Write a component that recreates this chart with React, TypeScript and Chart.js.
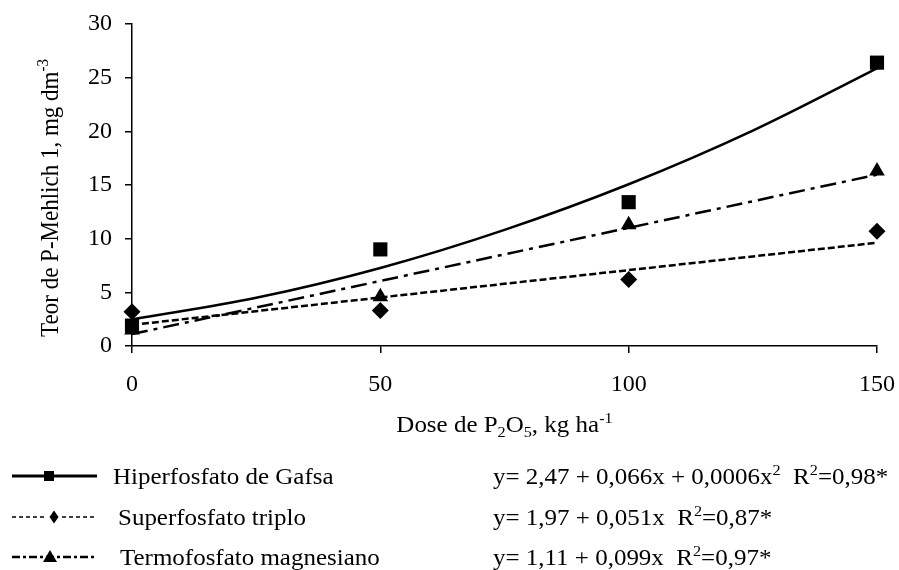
import React, { useEffect, useRef } from 'react';
import { Chart, registerables } from 'chart.js';

Chart.register(...registerables);

// ---- data ----
const doses = [0, 50, 100, 150];
const gafsa = [1.9, 9.0, 13.4, 26.4];
const superTriplo = [3.2, 3.3, 6.2, 10.7];
const termo = [1.5, 4.6, 11.3, 16.3];

// fitted curves
const gafsaFitX = [0, 25, 50, 75, 100, 125, 150];
const gafsaFitY = [2.47, 4.49, 7.27, 10.82, 15.07, 20.07, 25.87];
const linFitX = [0, 150];
const superFitY = [1.97, 9.62];
const termoFitY = [1.11, 15.96];

const seriesNames = ['Hiperfosfato de Gafsa', 'Superfosfato triplo', 'Termofosfato magnesiano'];

type Part = [string, number]; // 0 normal, 1 sub, 2 sup
const equations: Part[][] = [
  [['y= 2,47 + 0,066x + 0,0006x', 0], ['2', 2], ['  R', 0], ['2', 2], ['=0,98*', 0]],
  [['y= 1,97 + 0,051x  R', 0], ['2', 2], ['=0,87*', 0]],
  [['y= 1,11 + 0,099x  R', 0], ['2', 2], ['=0,97*', 0]],
];
const xTitle: Part[] = [['Dose de P', 0], ['2', 1], ['O', 0], ['5', 1], [', kg ha', 0], ['-1', 2]];
const yTitle: Part[] = [['Teor de P-Mehlich 1, mg dm', 0], ['-3', 2]];

const FONT = '"Liberation Serif", "Times New Roman", serif';
const SX = 1.11;

function partsWidth(ctx: CanvasRenderingContext2D, parts: Part[], size: number) {
  let w = 0;
  for (const [t, k] of parts) {
    ctx.font = `${k ? size * 0.65 : size}px ${FONT}`;
    w += ctx.measureText(t).width;
  }
  return w;
}

function drawParts(ctx: CanvasRenderingContext2D, parts: Part[], size: number, x0: number) {
  let x = x0;
  ctx.textBaseline = 'alphabetic';
  ctx.textAlign = 'left';
  for (const [t, k] of parts) {
    const s = k ? size * 0.65 : size;
    ctx.font = `${s}px ${FONT}`;
    const dy = k === 1 ? size * 0.22 : k === 2 ? -size * 0.4 : 0;
    ctx.fillText(t, x, dy);
    x += ctx.measureText(t).width;
  }
}

const annotPlugin = {
  id: 'annot',
  afterDraw(chart: any) {
    const ctx: CanvasRenderingContext2D = chart.ctx;
    const area = chart.chartArea;
    ctx.save();
    ctx.fillStyle = '#000';
    ctx.strokeStyle = '#000';
    const size = 22.5;

    // x title
    const cx = (area.left + area.right) / 2;
    ctx.save();
    ctx.translate(cx, 432);
    ctx.scale(SX, 1);
    const wx = partsWidth(ctx, xTitle, size);
    drawParts(ctx, xTitle, size, -wx / 2);
    ctx.restore();

    // y title
    ctx.save();
    ctx.translate(58, 198);
    ctx.rotate(-Math.PI / 2);
    ctx.scale(1, SX);
    const ysz = 23;
    const wy = partsWidth(ctx, yTitle, ysz);
    drawParts(ctx, yTitle, ysz, -wy / 2);
    ctx.restore();

    // legend
    const rows = [476, 517, 557];
    const textX = [113, 118, 120];
    const eqX = 493;
    rows.forEach((ry, i) => {
      ctx.save();
      ctx.beginPath();
      if (i === 0) {
        ctx.lineWidth = 3;
        ctx.setLineDash([]);
      } else if (i === 1) {
        ctx.lineWidth = 1.5;
        ctx.setLineDash([4, 3]);
      } else {
        ctx.lineWidth = 2.5;
        ctx.setLineDash([8, 3, 3, 3]);
      }
      if (i === 1) {
        ctx.moveTo(12, ry); ctx.lineTo(46, ry);
        ctx.moveTo(62, ry); ctx.lineTo(97, ry);
      } else {
        ctx.moveTo(12, ry); ctx.lineTo(97, ry);
      }
      ctx.stroke();
      ctx.setLineDash([]);
      ctx.beginPath();
      if (i === 0) {
        ctx.rect(44, ry - 5, 10, 10);
      } else if (i === 1) {
        ctx.moveTo(54, ry - 6.5); ctx.lineTo(58.5, ry); ctx.lineTo(54, ry + 6.5); ctx.lineTo(49.5, ry);
        ctx.closePath();
      } else {
        ctx.moveTo(50, ry - 7); ctx.lineTo(57, ry + 5); ctx.lineTo(43, ry + 5);
        ctx.closePath();
      }
      ctx.fill();
      ctx.restore();

      ctx.save();
      ctx.translate(textX[i], ry + 7.5);
      ctx.scale(SX, 1);
      drawParts(ctx, [[seriesNames[i], 0]], size, 0);
      ctx.restore();

      ctx.save();
      ctx.translate(eqX, ry + 7.5);
      ctx.scale(SX, 1);
      drawParts(ctx, equations[i], size, 0);
      ctx.restore();
    });
    ctx.restore();
  },
};

function pts(xs: number[], ys: number[]) {
  return xs.map((x, i) => ({ x, y: ys[i] }));
}

export default function App() {
  const ref = useRef<HTMLCanvasElement | null>(null);
  useEffect(() => {
    if (!ref.current) return;
    const tickFont = { family: FONT, size: 24 };
    const chart = new Chart(ref.current, {
      type: 'scatter',
      data: {
        datasets: [
          { label: seriesNames[0], data: pts(doses, gafsa), pointStyle: 'rect', pointRadius: 10, backgroundColor: '#000', borderColor: '#000', borderWidth: 0, order: 0, clip: false } as any,
          { label: seriesNames[1], data: pts(doses, superTriplo), pointStyle: 'rectRot', pointRadius: 8.5, backgroundColor: '#000', borderColor: '#000', borderWidth: 0, order: 0, clip: false } as any,
          { label: seriesNames[2], data: pts(doses, termo), pointStyle: 'triangle', pointRadius: 9, backgroundColor: '#000', borderColor: '#000', borderWidth: 0, order: 0, clip: false } as any,
          { label: 'fit1', data: pts(gafsaFitX, gafsaFitY), showLine: true, pointRadius: 0, borderColor: '#000', borderWidth: 2.5, cubicInterpolationMode: 'monotone', order: 1, clip: false } as any,
          { label: 'fit2', data: pts(linFitX, superFitY), showLine: true, pointRadius: 0, borderColor: '#000', borderWidth: 2.5, borderDash: [7, 3], order: 1, clip: false } as any,
          { label: 'fit3', data: pts(linFitX, termoFitY), showLine: true, pointRadius: 0, borderColor: '#000', borderWidth: 2.5, borderDash: [16, 6, 4, 6], order: 1, clip: false } as any,
        ],
      },
      options: {
        responsive: false,
        animation: false,
        layout: { padding: { left: 0, right: 22, top: 24, bottom: 0 } },
        plugins: { legend: { display: false }, tooltip: { enabled: false }, title: { display: false } },
        scales: {
          x: {
            type: 'linear', min: 0, max: 150,
            ticks: { stepSize: 50, color: '#000', font: tickFont, padding: 17, maxRotation: 0 },
            grid: { drawOnChartArea: false, drawTicks: true, tickLength: 7, color: '#000', lineWidth: 1.5 },
            border: { display: true, color: '#000', width: 1.5 },
            afterFit: (s: any) => { s.height = 224; s.paddingLeft = 0; s.paddingRight = 0; },
          },
          y: {
            type: 'linear', min: 0, max: 30,
            ticks: { stepSize: 5, color: '#000', font: tickFont, padding: 13 },
            grid: { drawOnChartArea: false, drawTicks: true, tickLength: 7, color: '#000', lineWidth: 1.5 },
            border: { display: true, color: '#000', width: 1.5 },
            afterFit: (s: any) => { s.width = 132; s.paddingTop = 0; s.paddingBottom = 0; },
          },
        },
      },
      plugins: [annotPlugin],
    });
    return () => chart.destroy();
  }, []);
  return (
    <div style={{ position: 'fixed', left: 0, top: 0, width: 899, height: 570, background: '#fff' }}>
      <canvas ref={ref} width={899} height={570} style={{ display: 'block', width: 899, height: 570 }} />
    </div>
  );
}
